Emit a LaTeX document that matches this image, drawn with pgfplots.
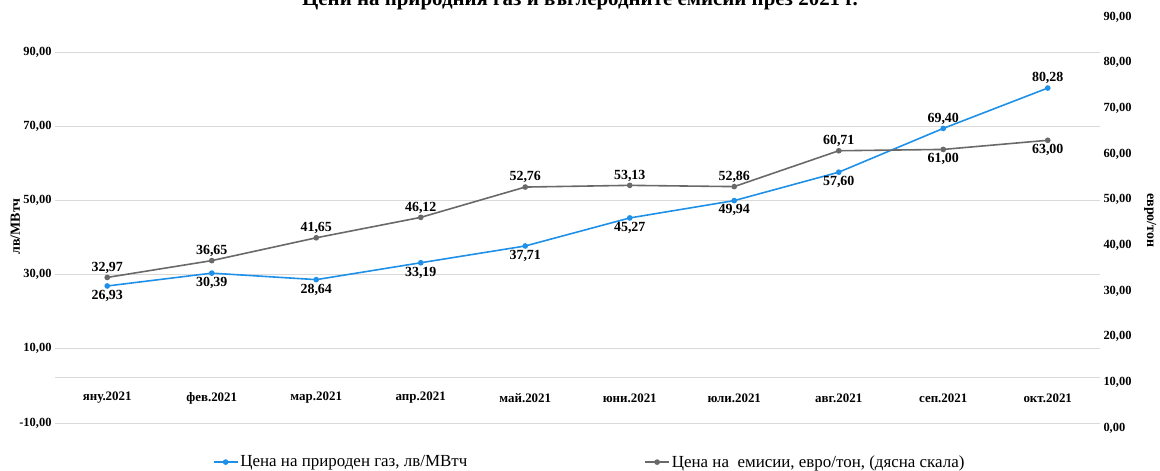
\documentclass[border=0pt]{standalone}
\usepackage{fontspec}
\setmainfont{Liberation Serif}
\usepackage{pgfplots}
\pgfplotsset{compat=1.18}

\definecolor{gasblue}{RGB}{30,144,232}
\definecolor{co2grey}{RGB}{105,105,105}

% month, gas price (lv/MWh), CO2 price (eur/t)
\pgfplotstableread{
x gas co2
0 26.93 32.97
1 30.39 36.65
2 28.64 41.65
3 33.19 46.12
4 37.71 52.76
5 45.27 53.13
6 49.94 52.86
7 57.60 60.71
8 69.40 61.00
9 80.28 63.00
}\prices

\begin{document}
\begin{tikzpicture}[x=1bp,y=1bp]
\useasboundingbox (0,0) rectangle (1160,471);
\pgfplotsset{
  every axis/.append style={
    scale only axis, width=1045bp,
    xmin=-0.5, xmax=9.5,
    axis line style={draw=none}, major tick length=0pt,
    tick label style={font=\bfseries\fontsize{12.5}{14}\selectfont},
    /pgf/number format/fixed, /pgf/number format/fixed zerofill,
    /pgf/number format/precision=2, /pgf/number format/use comma,
    /pgf/number format/assume math mode=true,
  },
  lbl/.style={nodes near coords,
    every node near coord/.append style={font=\bfseries\fontsize{14}{16}\selectfont, text=black}},
}
% title, cut at the top edge as in the scan
\node[font=\bfseries\fontsize{21}{24}\selectfont, anchor=base] at (580,465)
  {Цени на природния газ и въглеродните емисии през 2021 г.};

\begin{axis}[
  at={(55bp,48bp)}, anchor=south west, height=371bp,
  ymin=-10, ymax=90, ytick={-10,10,...,90},
  ymajorgrids, grid style={gray!30, line width=0.8pt},
  extra y ticks={2.4}, extra y tick labels={},
  xtick={0,...,9},
  xticklabels={яну.2021,фев.2021,мар.2021,апр.2021,май.2021,юни.2021,юли.2021,авг.2021,сеп.2021,окт.2021},
  xticklabel style={anchor=center, yshift=25bp, font=\bfseries\fontsize{13}{15}\selectfont},
  ylabel={лв/МВтч},
  ylabel style={at={(axis description cs:-0.038,0.53)}, anchor=center,
    font=\bfseries\fontsize{14}{16}\selectfont},
]
\addplot[gasblue, line width=1.6pt, mark=*, mark size=2pt, lbl,
  nodes near coords align=below,
  coordinate style/.condition={\coordindex>7}{anchor=south}]
  table[x=x, y=gas] {\prices};
\end{axis}

\begin{axis}[
  at={(55bp,43bp)}, anchor=south west, height=411bp,
  ymin=0, ymax=90, ytick={0,10,...,90},
  axis y line*=right, axis x line=none,
  ylabel={евро/тон},
  ylabel style={at={(axis description cs:1.048,0.505)}, anchor=center, rotate=180,
    font=\bfseries\fontsize{14}{16}\selectfont},
  legend columns=2,
  legend style={at={(axis description cs:0.148,-0.083)}, anchor=west, draw=none, fill=none,
    font=\fontsize{17}{19}\selectfont,
    /tikz/every even column/.append style={column sep=175bp}},
  legend cell align=left,
  legend image code/.code={\draw[mark repeat=2, mark phase=2, #1]
    plot coordinates {(0bp,0bp) (12bp,0bp) (24bp,0bp)};},
]
\addlegendimage{gasblue, line width=1.6pt, mark=*, mark size=2pt}
\addlegendentry{Цена на природен газ, лв/МВтч}
\addplot[co2grey, line width=1.6pt, mark=*, mark size=2pt, lbl,
  nodes near coords align=above,
  coordinate style/.condition={\coordindex>7}{anchor=north}]
  table[x=x, y=co2] {\prices};
\addlegendentry{Цена на\ \ емисии, евро/тон, (дясна скала)}
\end{axis}
\end{tikzpicture}
\end{document}
